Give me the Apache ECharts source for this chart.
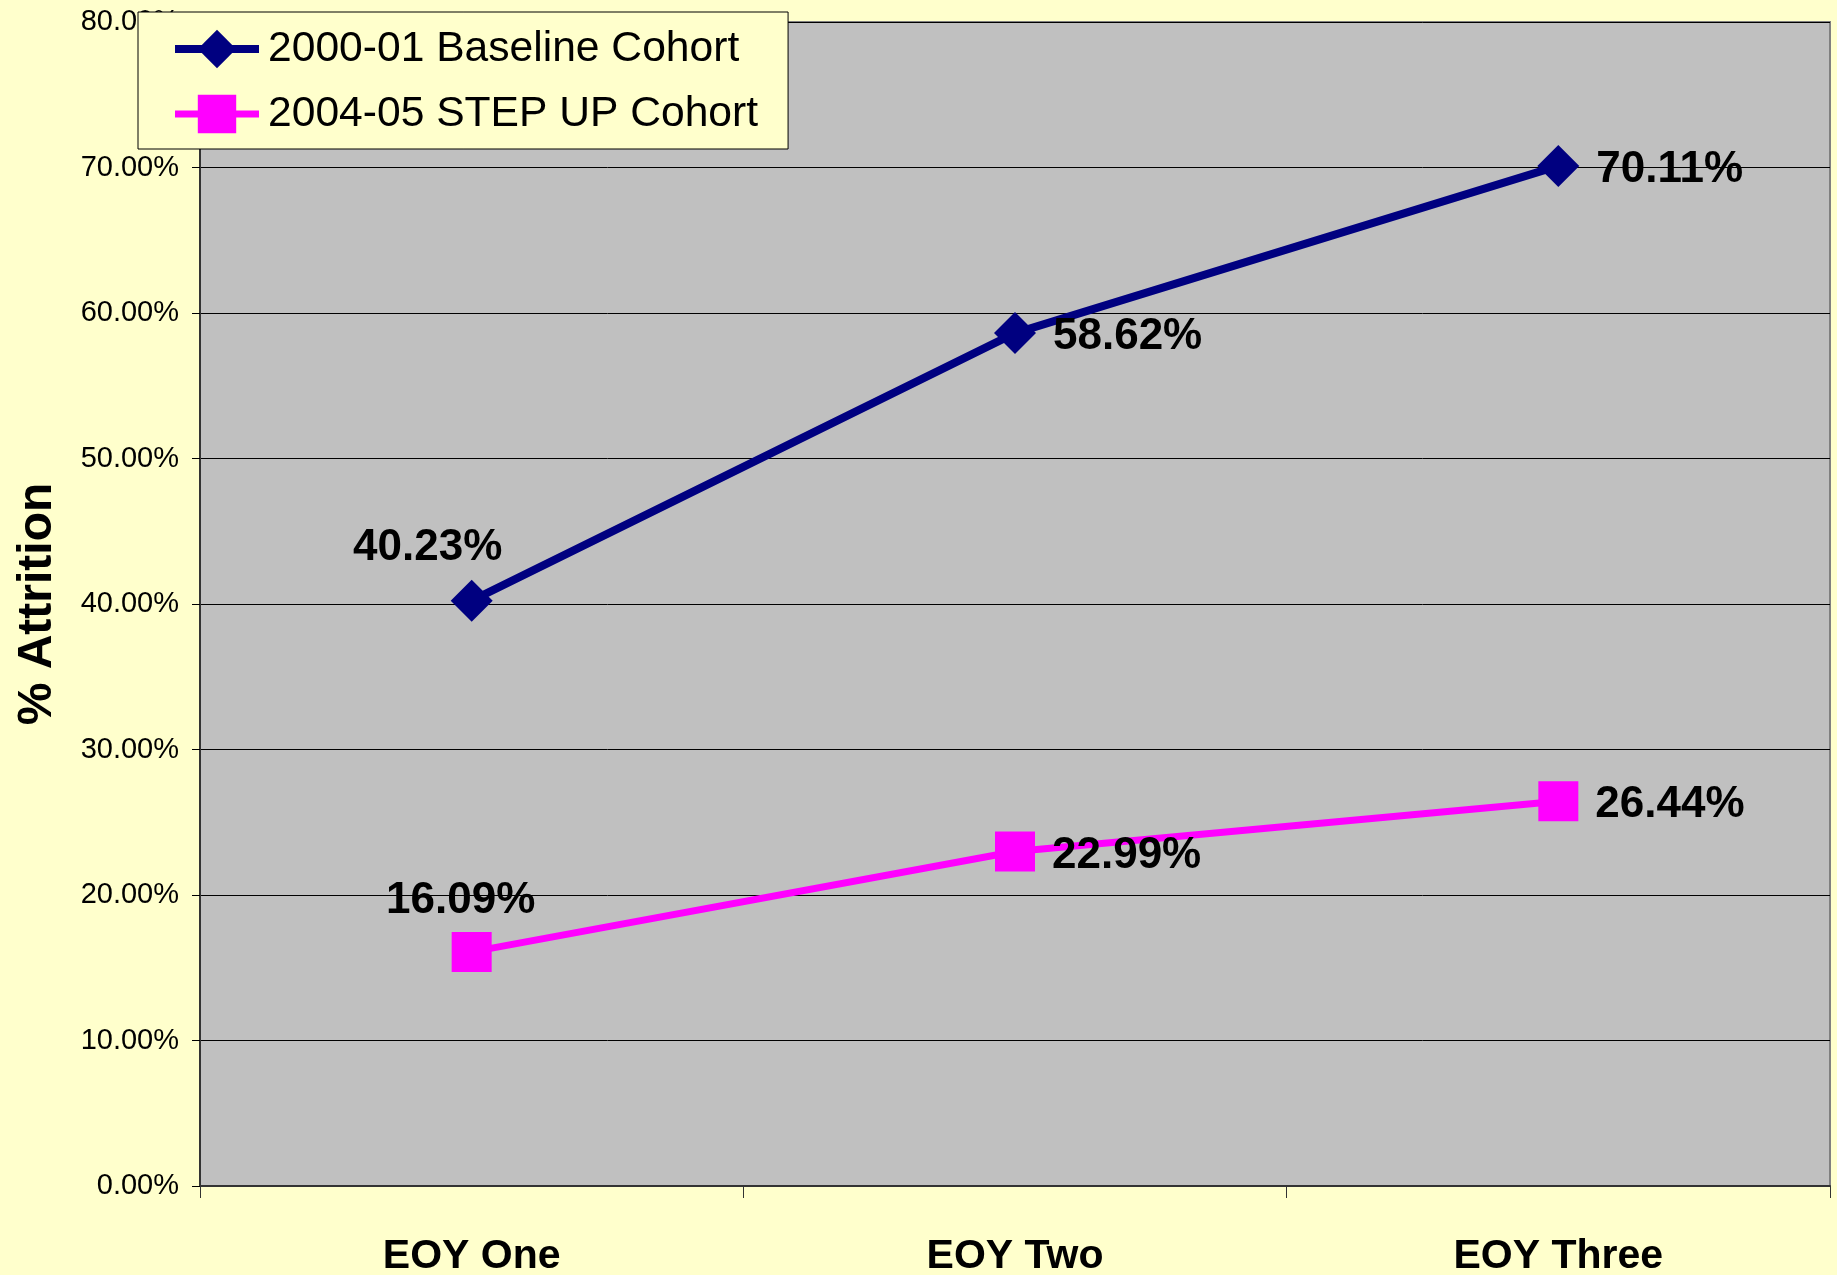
<!DOCTYPE html>
<html>
<head>
<meta charset="utf-8">
<script src="https://cdn.jsdelivr.net/npm/echarts@6/dist/echarts.min.js"></script>
<style>
  html, body { margin: 0; padding: 0; background: #FFFFCC; }
  #chart { width: 1837px; height: 1275px; }
</style>
</head>
<body>
<div id="chart"></div>
<script>
// Attrition by end of year, two cohorts
const categories = ['EOY One', 'EOY Two', 'EOY Three'];
const baselineCohort = [40.23, 58.62, 70.11];
const stepUpCohort = [16.09, 22.99, 26.44];
const seriesNames = ['2000-01 Baseline Cohort', '2004-05 STEP UP Cohort'];

const FONT = '"Liberation Sans", Arial, sans-serif';

// First point's label sits above-left of the marker, the rest to the right
function withLabels(values, firstOffset) {
  return values.map((v, i) => i === 0
    ? { value: v, label: { position: 'inside', offset: firstOffset } }
    : { value: v });
}

const labelStyle = {
  show: true,
  position: 'right',
  distance: 17,
  offset: [0, 4],
  fontFamily: FONT,
  fontWeight: 'bold',
  fontSize: 44,
  color: '#000',
  formatter: p => p.value.toFixed(2) + '%'
};

const chart = echarts.init(document.getElementById('chart'), null, { renderer: 'canvas' });
chart.setOption({
  backgroundColor: '#FFFFCC',
  animation: false,
  grid: {
    left: 200, right: 7, top: 22, bottom: 89,
    outerBoundsMode: 'none',
    containLabel: false,
    show: true,
    backgroundColor: '#C0C0C0',
    borderColor: '#808080',
    borderWidth: 2
  },
  legend: {
    orient: 'vertical',
    left: 138, top: 12,
    padding: [14, 30, 12, 33],
    backgroundColor: '#FFFFCC',
    borderColor: '#000',
    borderWidth: 1,
    itemWidth: 84,
    itemHeight: 48,
    itemGap: 19,
    textStyle: { fontFamily: FONT, fontSize: 42.6, color: '#000', lineHeight: 46, padding: [0, 0, 0, 4] },
    data: [
      { name: seriesNames[0], lineStyle: { width: 8 } },
      { name: seriesNames[1], lineStyle: { width: 7 } }
    ]
  },
  xAxis: {
    type: 'category',
    data: categories,
    boundaryGap: true,
    axisLine: { lineStyle: { color: '#333', width: 2 } },
    axisTick: { show: true, length: 12, lineStyle: { color: '#333', width: 1 } },
    axisLabel: { fontFamily: FONT, fontWeight: 'bold', fontSize: 41, color: '#000', margin: 50 },
    splitLine: { show: false }
  },
  yAxis: {
    type: 'value',
    min: 0, max: 80, interval: 10,
    name: '% Attrition',
    nameLocation: 'middle',
    nameGap: 138,
    nameRotate: 90,
    nameTextStyle: { fontFamily: FONT, fontWeight: 'bold', fontSize: 48, color: '#000' },
    axisLine: { show: true, lineStyle: { color: '#333', width: 2 } },
    axisTick: { show: true, length: 8, lineStyle: { color: '#000' } },
    axisLabel: { fontFamily: FONT, fontSize: 29, color: '#000', margin: 21,
      formatter: v => v.toFixed(2) + '%' },
    splitLine: { show: true, lineStyle: { color: '#000', width: 1 } }
  },
  series: [
    {
      name: seriesNames[0],
      type: 'line',
      data: withLabels(baselineCohort, [-44, -53]),
      symbol: 'diamond',
      symbolSize: 42,
      lineStyle: { color: '#000080', width: 8 },
      itemStyle: { color: '#000080' },
      label: labelStyle,
      z: 3
    },
    {
      name: seriesNames[1],
      type: 'line',
      data: withLabels(stepUpCohort, [-11, -51]),
      symbol: 'rect',
      symbolSize: 40,
      lineStyle: { color: '#FF00FF', width: 7 },
      itemStyle: { color: '#FF00FF' },
      label: labelStyle,
      z: 3
    }
  ]
});
</script>
</body>
</html>
